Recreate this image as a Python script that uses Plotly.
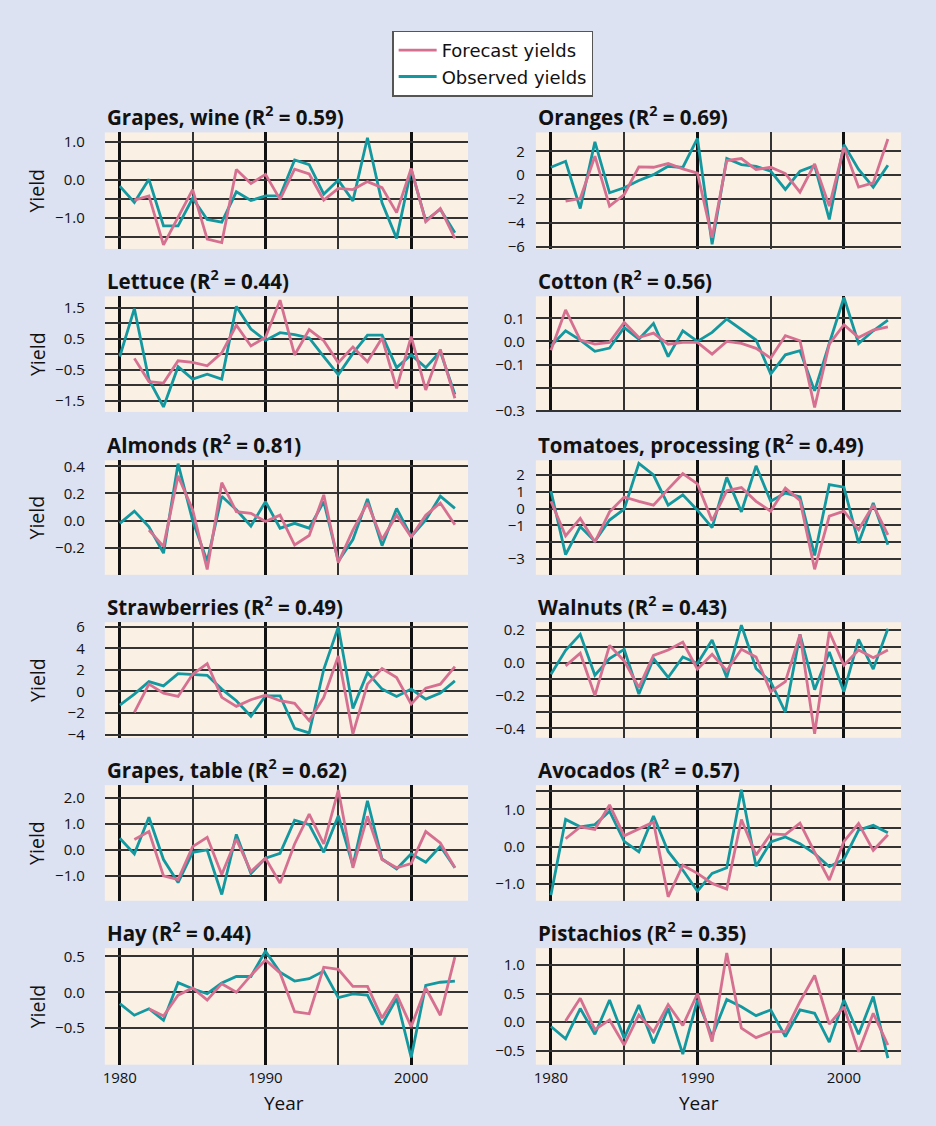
import plotly.graph_objects as go

years = list(range(1980, 2004))

# ---------------- data ----------------
grapes_wine_observed = [-0.16, -0.59, 0.02, -1.21, -1.21, -0.48, -1.04, -1.11, -0.31, -0.54, -0.42, -0.42,
                        0.53, 0.41, -0.37, 0.0, -0.55, 1.12, -0.6, -1.54, 0.28, -1.07, -0.77, -1.39]
grapes_wine_forecast = [None, -0.53, -0.42, -1.71, -0.96, -0.25, -1.56, -1.65, 0.28, -0.09, 0.15, -0.51,
                        0.29, 0.16, -0.53, -0.22, -0.25, -0.04, -0.2, -0.86, 0.31, -1.1, -0.75, -1.54]

oranges_observed = [0.67, 1.17, -2.8, 2.8, -1.48, -1.06, -0.45, 0.05, 0.75, 0.65, 3.1, -5.8,
                     1.4, 0.9, 0.75, 0.34, -1.2, 0.34, 0.8, -3.72, 2.57, 0.48, -1.0, 0.84]
oranges_forecast = [None, -2.18, -1.96, 1.6, -2.6, -1.62, 0.7, 0.67, 0.98, 0.53, 0.17, -5.26,
                    1.23, 1.4, 0.48, 0.67, 0.14, -1.43, 0.95, -2.6, 2.35, -1.0, -0.64, 3.05]

lettuce_observed = [-0.07, 1.48, -0.82, -1.7, -0.4, -0.8, -0.64, -0.8, 1.55, 0.82, 0.45, 0.7,
                    0.64, 0.53, -0.07, -0.66, 0.03, 0.62, 0.62, -0.43, -0.02, -0.43, 0.09, -1.3]
lettuce_forecast = [None, -0.13, -0.88, -0.93, -0.21, -0.26, -0.37, 0.05, 0.94, 0.27, 0.55, 1.75,
                    -0.02, 0.8, 0.44, -0.27, 0.24, -0.24, 0.53, -1.1, 0.57, -1.15, 0.16, -1.42]

cotton_observed = [-0.02, 0.046, 0.006, -0.043, -0.029, 0.06, 0.01, 0.078, -0.066, 0.046, 0.0, 0.039,
                   0.097, 0.05, 0.006, -0.141, -0.058, -0.04, -0.214, -0.009, 0.19, -0.009, 0.046, 0.092]
cotton_forecast = [-0.038, 0.136, 0.006, -0.012, -0.004, 0.082, 0.017, 0.036, -0.012, -0.004, -0.004, -0.055,
                   0.0, -0.009, -0.03, -0.072, 0.025, 0.003, -0.286, -0.012, 0.072, 0.017, 0.049, 0.063]

almonds_observed = [-0.02, 0.07, -0.045, -0.24, 0.42, 0.0, -0.3, 0.18, 0.08, -0.04, 0.14, -0.056,
                    -0.02, -0.056, 0.14, -0.3, -0.14, 0.16, -0.185, 0.09, -0.117, 0.005, 0.18, 0.09]
almonds_forecast = [None, None, -0.07, -0.19, 0.33, 0.08, -0.36, 0.28, 0.066, 0.054, -0.007, 0.04,
                    -0.18, -0.11, 0.19, -0.31, -0.07, 0.13, -0.14, 0.04, -0.12, 0.04, 0.13, -0.03]

tomatoes_observed = [1.04, -2.75, -1.08, -1.96, -0.69, -0.04, 2.7, 2.0, 0.2, 0.82, -0.1, -1.14,
                     1.86, -0.2, 2.55, 0.43, 0.92, 0.69, -2.8, 1.43, 1.27, -2.06, 0.33, -2.16]
tomatoes_forecast = [0.43, -1.63, -0.59, -2.0, -0.2, 0.69, 0.43, 0.2, 1.16, 2.08, 1.47, -0.73,
                     1.06, 1.25, 0.43, -0.16, 1.22, 0.49, -3.63, -0.45, -0.16, -1.27, 0.2, -1.57]

strawberries_observed = [-1.26, -0.25, 0.92, 0.52, 1.66, 1.6, 1.5, 0.22, -0.86, -2.3, -0.4, -0.4,
                         -3.42, -3.85, 2.06, 6.0, -1.57, 1.75, 0.22, -0.46, 0.22, -0.71, -0.15, 0.98]
strawberries_forecast = [None, -1.94, 0.68, -0.15, -0.46, 1.6, 2.58, -0.55, -1.38, -0.77, -0.34, -0.86,
                         -1.1, -2.7, -0.55, 3.3, -3.94, 0.68, 2.12, 1.29, -1.17, 0.31, 0.68, 2.3]

walnuts_observed = [-0.069, 0.077, 0.174, -0.075, 0.026, 0.083, -0.19, 0.026, -0.089, 0.036, -0.004, 0.139,
                    -0.089, 0.23, -0.034, -0.115, -0.3, 0.174, -0.164, 0.067, -0.176, 0.143, -0.038, 0.208]
walnuts_forecast = [None, -0.018, 0.059, -0.2, 0.107, 0.012, -0.15, 0.046, 0.079, 0.127, -0.038, 0.053,
                    -0.048, 0.083, 0.036, -0.176, -0.115, 0.174, -0.432, 0.19, -0.014, 0.079, 0.032, 0.079]

grapes_table_observed = [0.45, -0.15, 1.26, -0.37, -1.26, -0.09, 0.0, -1.72, 0.6, -0.91, -0.32, -0.13,
                         1.15, 0.98, -0.09, 1.32, -0.6, 1.9, -0.35, -0.73, -0.15, -0.47, 0.14, -0.69]
grapes_table_forecast = [None, 0.4, 0.71, -1.0, -1.14, 0.13, 0.49, -0.95, 0.42, -0.83, -0.32, -1.28,
                         0.23, 1.38, 0.23, 2.31, -0.69, 1.3, -0.37, -0.69, -0.53, 0.71, 0.27, -0.69]

avocados_observed = [-1.3, 0.73, 0.53, 0.59, 0.95, 0.14, -0.14, 0.82, -0.13, -0.63, -1.2, -0.72,
                     -0.57, 1.53, -0.53, 0.125, 0.26, 0.08, -0.19, -0.54, -0.34, 0.44, 0.57, 0.375]
avocados_forecast = [None, 0.21, 0.53, 0.46, 1.12, 0.29, 0.48, 0.66, -1.35, -0.5, -0.72, -0.99,
                     -1.14, 0.73, -0.23, 0.34, 0.32, 0.63, -0.15, -0.9, 0.14, 0.62, -0.1, 0.32]

hay_observed = [-0.157, -0.32, -0.23, -0.39, 0.134, 0.05, -0.02, 0.13, 0.22, 0.22, 0.574, 0.28,
                0.157, 0.19, 0.296, -0.074, -0.023, -0.04, -0.45, -0.088, -0.91, 0.097, 0.14, 0.157]
hay_forecast = [None, None, -0.23, -0.33, -0.04, 0.06, -0.11, 0.12, 0.0, 0.236, 0.45, 0.27,
                -0.27, -0.3, 0.35, 0.32, 0.083, 0.083, -0.36, -0.03, -0.48, 0.06, -0.32, 0.49]

pistachios_observed = [-0.075, -0.29, 0.24, -0.21, 0.39, -0.28, 0.3, -0.37, 0.24, -0.56, 0.39, -0.25,
                       0.4, 0.27, 0.116, 0.215, -0.25, 0.215, 0.157, -0.35, 0.39, -0.21, 0.45, -0.63]
pistachios_forecast = [None, 0.023, 0.42, -0.13, 0.04, -0.4, 0.128, -0.17, 0.31, -0.058, 0.5, -0.34,
                       1.215, -0.105, -0.27, -0.17, -0.16, 0.36, 0.82, -0.035, 0.27, -0.52, 0.157, -0.4]

panel_names = ["Grapes, wine", "Oranges", "Lettuce", "Cotton", "Almonds", "Tomatoes, processing",
               "Strawberries", "Walnuts", "Grapes, table", "Avocados", "Hay", "Pistachios"]
r_squared = ["0.59", "0.69", "0.44", "0.56", "0.81", "0.49", "0.49", "0.43", "0.62", "0.57", "0.44", "0.35"]
observed_series = [grapes_wine_observed, oranges_observed, lettuce_observed, cotton_observed,
                   almonds_observed, tomatoes_observed, strawberries_observed, walnuts_observed,
                   grapes_table_observed, avocados_observed, hay_observed, pistachios_observed]
forecast_series = [grapes_wine_forecast, oranges_forecast, lettuce_forecast, cotton_forecast,
                   almonds_forecast, tomatoes_forecast, strawberries_forecast, walnuts_forecast,
                   grapes_table_forecast, avocados_forecast, hay_forecast, pistachios_forecast]

# gridline values, labelled values, decimals
grid_values = [
    [-1.5, -1.0, -0.5, 0.0, 0.5, 1.0],
    [-6, -4, -2, 0, 2],
    [-1.5, -1.0, -0.5, 0.0, 0.5, 1.0, 1.5],
    [-0.3, -0.2, -0.1, 0.0, 0.1],
    [-0.2, 0.0, 0.2, 0.4],
    [-3, -2, -1, 0, 1, 2],
    [-4, -2, 0, 2, 4, 6],
    [-0.4, -0.3, -0.2, -0.1, 0.0, 0.1, 0.2],
    [-1.0, 0.0, 1.0, 2.0],
    [-1.0, -0.5, 0.0, 0.5, 1.0, 1.5],
    [-0.5, 0.0, 0.5],
    [-0.5, 0.0, 0.5, 1.0],
]
label_values = [
    [-1.0, 0.0, 1.0],
    [-6, -4, -2, 0, 2],
    [-1.5, -0.5, 0.5, 1.5],
    [-0.3, -0.1, 0.0, 0.1],
    [-0.2, 0.0, 0.2, 0.4],
    [-3, -1, 0, 1, 2],
    [-4, -2, 0, 2, 4, 6],
    [-0.4, -0.2, 0.0, 0.2],
    [-1.0, 0.0, 1.0, 2.0],
    [-1.0, 0.0, 1.0],
    [-0.5, 0.0, 0.5],
    [-0.5, 0.0, 0.5, 1.0],
]
label_decimals = [1, 0, 1, 1, 1, 0, 0, 1, 1, 1, 1, 1]
y_ranges = [
    [-1.82, 1.26], [-6.2, 3.6], [-1.86, 1.875], [-0.305, 0.195], [-0.40, 0.445], [-3.96, 2.88],
    [-4.3, 6.43], [-0.457, 0.248], [-1.96, 2.5], [-1.455, 1.65], [-1.01, 0.616], [-0.745, 1.30],
]
x_tick_years = [1980, 1990, 2000]

# ---------------- layout geometry ----------------
W, H = 936, 1126
BG = "rgb(220,226,242)"
PLOT_BG = "rgb(250,240,228)"
PINK = "rgb(214,112,145)"
TEAL = "rgb(20,152,160)"
FONT = "Open Sans"

col_px = [(103, 467), (535, 901)]
row_px = [(128, 246), (294, 411), (460, 576), (624, 741), (789, 906), (954, 1072)]


def fmt(v, d):
    s = f"{abs(v):.{d}f}"
    return ("\u2212" + s) if v < 0 else s


fig = go.Figure()
layout = dict(
    width=W, height=H,
    paper_bgcolor=BG, plot_bgcolor=PLOT_BG,
    margin=dict(l=0, r=0, t=0, b=0),
    font=dict(family=FONT, color="#111", size=15),
    showlegend=True,
    legend=dict(x=492 / W, y=1 - 25 / H, xanchor="center", yanchor="top",
                bgcolor="white", bordercolor="#555", borderwidth=1.2,
                font=dict(size=18, family="DejaVu Sans", color="#111"),
                tracegroupgap=0, itemwidth=38),
)
annotations = []

for i in range(12):
    r, c = divmod(i, 2)
    n = i + 1
    xs = "" if n == 1 else str(n)
    x0, x1 = col_px[c]
    y0, y1 = row_px[r]
    xd = [x0 / W, x1 / W]
    yd = [1 - y1 / H, 1 - y0 / H]
    bottom = (r == 5)

    fig.add_trace(go.Scatter(x=years, y=observed_series[i], mode="lines",
                             line=dict(color=TEAL, width=2.8), name="Observed yields",
                             showlegend=(i == 0), legendrank=2,
                             xaxis="x" + xs, yaxis="y" + xs, connectgaps=False))
    fig.add_trace(go.Scatter(x=years, y=forecast_series[i], mode="lines",
                             line=dict(color=PINK, width=2.8), name="Forecast yields",
                             showlegend=(i == 0), legendrank=1,
                             xaxis="x" + xs, yaxis="y" + xs, connectgaps=False))

    layout["xaxis" + xs] = dict(
        domain=xd, anchor="y" + xs, range=[1978.97, 2003.9],
        tickmode="array", tickvals=x_tick_years,
        ticktext=[str(y) for y in x_tick_years] if bottom else ["", "", ""],
        showticklabels=bottom, ticks="",
        showgrid=True, gridcolor="#111", gridwidth=3,
        minor=dict(dtick=5, tick0=1980, showgrid=True, gridcolor="#333", gridwidth=1.8, ticks=""),
        zeroline=False, showline=False, fixedrange=True,
        tickfont=dict(size=15, color="#111"), ticklabelstandoff=2,
    )
    lv = label_values[i]
    ttext = [fmt(v, label_decimals[i]) if any(abs(v - l) < 1e-9 for l in lv) else "" for v in grid_values[i]]
    layout["yaxis" + xs] = dict(
        domain=yd, anchor="x" + xs, range=y_ranges[i],
        tickmode="array", tickvals=grid_values[i], ticktext=ttext,
        ticks="", showgrid=True, gridcolor="#333", gridwidth=1.6,
        zeroline=False, showline=False, fixedrange=True,
        tickfont=dict(size=15, color="#111"),
        ticklabelstandoff=(19 if c == 0 else 10),
    )

    annotations.append(dict(
        text=f"<b>{panel_names[i]} (R<sup>2</sup> = {r_squared[i]})</b>",
        x=xd[0], y=yd[1], xref="paper", yref="paper", xanchor="left", yanchor="bottom",
        showarrow=False, font=dict(size=20.5, family=FONT, color="#111"), yshift=-1,
    ))
    if c == 0:
        annotations.append(dict(
            text="Yield", x=35 / W, y=(yd[0] + yd[1]) / 2, xref="paper", yref="paper",
            xanchor="center", yanchor="middle", textangle=-90, showarrow=False,
            font=dict(size=19.5, family=FONT, color="#111"),
        ))
    if bottom:
        annotations.append(dict(
            text="Year", x=(283 if c == 0 else 698) / W, y=1 - 1111 / H, xref="paper", yref="paper",
            xanchor="center", yanchor="middle", showarrow=False,
            font=dict(size=19, family=FONT, color="#111"),
        ))

layout["annotations"] = annotations
fig.update_layout(**layout)
fig.write_html("out.html", config={"displayModeBar": False},
               post_script="document.body.style.margin='0px';")
